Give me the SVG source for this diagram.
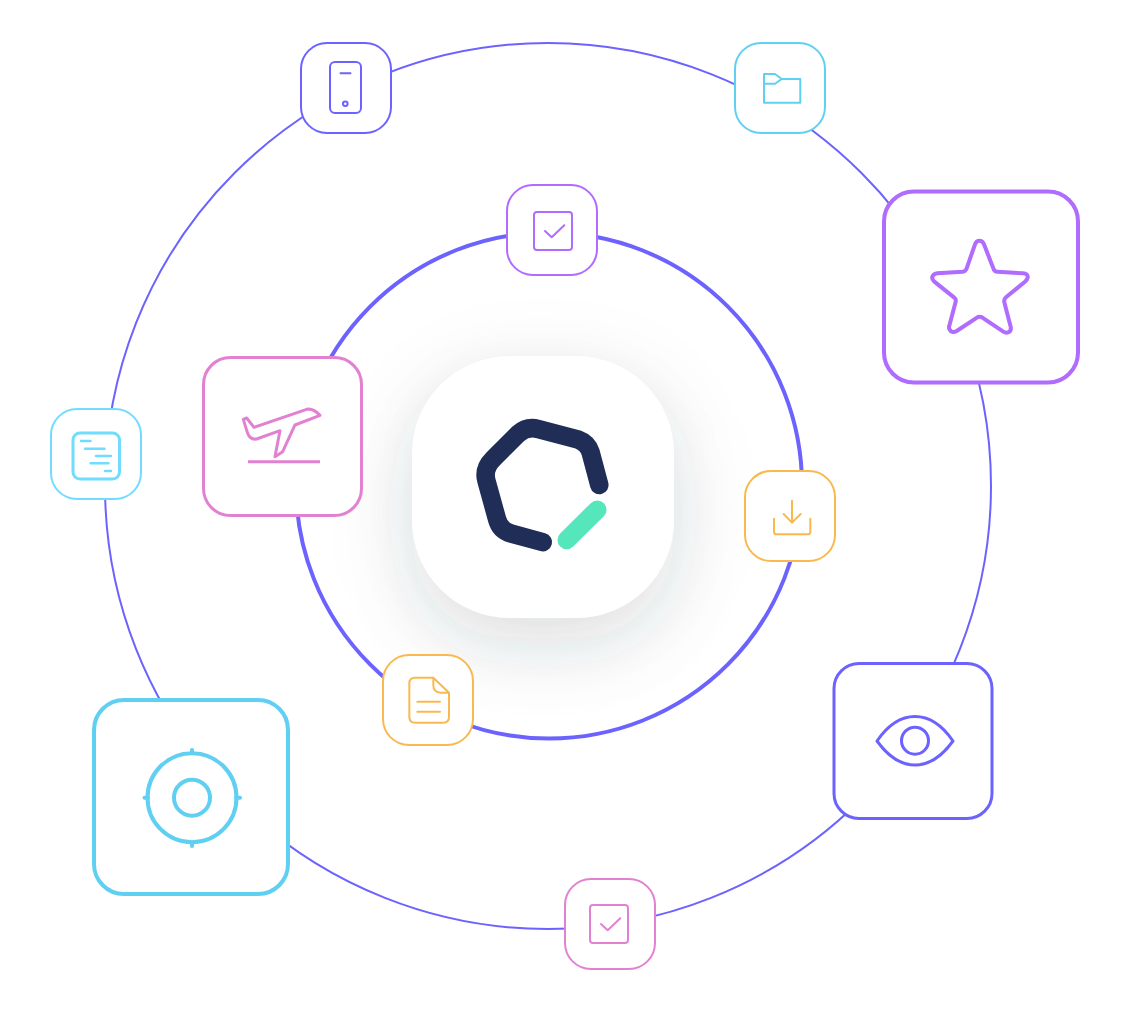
<svg xmlns="http://www.w3.org/2000/svg" width="1130" height="1012" viewBox="0 0 1130 1012">
<style>
.ln{fill:none;stroke-linecap:round;stroke-linejoin:round}
.box{fill:#fff}
.s2{stroke-width:2}.s3{stroke-width:3}.s4{stroke-width:4}
.violet{stroke:#6C63FF}.sky{stroke:#5FCFF2}.aqua{stroke:#72DCFF}.purple{stroke:#B06BFF}.pink{stroke:#E281D2}.amber{stroke:#FAB94F}
.z6{stroke-width:6}.z9{stroke-width:9}.z12{stroke-width:12}
</style>
<defs>
<filter id="soft" x="-80%" y="-80%" width="260%" height="270%">
<feDropShadow dx="0" dy="26" stdDeviation="32" flood-color="#3a4248" flood-opacity="0.13"/>
</filter>
<filter id="wide" x="-100%" y="-100%" width="300%" height="300%">
<feGaussianBlur stdDeviation="48"/>
</filter>
<g id="check">
<rect width="38" height="38" x="0" y="0" rx="3" fill="none"/>
<path d="M11 19L17.700 25.300L30.300 13.300" fill="none"/>
</g>
</defs>
<rect width="1130" height="1012" fill="#fff"/>
<g id="connectors" fill="none" stroke="#6C63FF">
<circle id="outer-ring" cx="548" cy="486" r="443" stroke-width="2"/>
<circle id="inner-ring" cx="549" cy="485.500" r="253" stroke-width="4"/>
</g>
<g id="node-logo">
<rect x="412" y="376" width="262" height="262" rx="98" fill="#3a4248" fill-opacity="0.05" filter="url(#wide)"/>
<rect x="412" y="356" width="262" height="262" rx="98" fill="#fff" filter="url(#soft)"/>
<path class="ln" stroke="#1F2D57" stroke-width="18.500" d="M599.300 485L590.500 452Q587.500 443 578 439.500L538 429Q527 426 518 434L493 459Q483 469 486.500 481L497 519Q500 530.500 511 533.500L542.700 542.200"/>
<path class="ln" stroke="#55E6BC" stroke-width="18.500" d="M566.700 540L597.300 509.700"/>
</g>
<g id="node-phone">
<rect class="box s2 violet" x="301" y="43" width="90" height="90" rx="26"/>
<rect class="ln s2 violet" x="330" y="62" width="31" height="51" rx="5"/>
<path class="ln s2 violet" d="M340.500 73.300H350.500"/>
<circle class="ln s2 violet" cx="345.300" cy="103.700" r="2.300"/>
</g>
<g id="node-folder">
<rect class="box s2 sky" x="735" y="43" width="90" height="90" rx="26"/>
<path class="ln s2 sky" d="M764 74H775L781.700 79H800.300V102.700H764ZM764 83.700H775L781.700 79"/>
</g>
<g id="node-star">
<rect class="box s4 purple" x="884" y="191.500" width="194" height="191" rx="30"/>
<path class="ln z12 purple" transform="translate(880 185) scale(.3333)" d="M298 167Q308 167 312 178L340 250Q343 260 352 260L428 265Q445 266 443 278Q442 284 435 290L378 337Q371 343 373 352L392 425Q395 440 382 443Q376 444 370 440L306 397Q299 393 292 397L230 438Q215 446 208 432Q206 428 208 422L227 350Q229 342 222 337L163 290Q152 280 160 270Q164 266 172 265L248 260Q257 259 260 250L285 178Q289 167 298 167Z"/>
</g>
<g id="node-check-top">
<rect class="box s2 purple" x="507" y="185" width="90" height="90" rx="26"/>
<use href="#check" x="534" y="212" class="ln s2 purple"/>
</g>
<g id="node-plane">
<rect class="box s3 pink" x="203.500" y="357.500" width="158" height="158" rx="27"/>
<path class="ln z9 pink" transform="translate(200 350) scale(.3333)" d="M130 208L140 204L162 232L320 178Q340 174 360 196L285 225L248 305L225 320L240 242L170 267Q150 270 143 250Z"/>
<path class="s3 pink" d="M248 461.700H320" fill="none"/>
</g>
<g id="node-list">
<rect class="box s2 aqua" x="51" y="409" width="90" height="90" rx="26"/>
<rect class="ln s3 aqua" x="73" y="433" width="46.500" height="46" rx="7"/>
<path class="ln aqua" stroke-width="2.500" d="M81 441H90.500M85 448.700H104.500M96 456H111M90.700 463.300H108.500M105 471H111"/>
</g>
<g id="node-download">
<rect class="box s2 amber" x="745" y="471" width="90" height="90" rx="26"/>
<path class="ln z6 amber" transform="translate(735 460) scale(.3333)" d="M117 176V215Q117 223 125 223H218Q226 223 226 215V176M171 122V188M146 162L171 188L197 162"/>
</g>
<g id="node-doc">
<rect class="box s2 amber" x="383" y="655" width="90" height="90" rx="26"/>
<path class="ln z6 amber" transform="translate(375 650) scale(.3333)" d="M120 83H175L222 128V200Q222 218 204 218H120Q103 218 103 200V100Q103 83 120 83ZM175 83V105Q175 128 198 128H222M127 155H195M127 185H195"/>
</g>
<g id="node-eye">
<rect class="box s3 violet" x="834" y="663.500" width="158" height="155" rx="25"/>
<path class="ln s3 violet" d="M877 741C890 722 903 716.500 915 716.500C927 716.500 940 722 953 741C940 759 927 765 915 765C903 765 890 759 877 741Z"/>
<circle class="ln s3 violet" cx="915" cy="740.700" r="13.500"/>
</g>
<g id="node-target">
<rect class="box s4 sky" x="94" y="700" width="194" height="194" rx="30"/>
<circle class="ln s4 sky" cx="192" cy="797.700" r="44.500"/>
<circle class="ln s4 sky" cx="192" cy="797.700" r="18"/>
<path class="ln s4 sky" d="M192 750V753M192 842.500V846M144.500 797.700H148M236 797.700H240"/>
</g>
<g id="node-check-bottom">
<rect class="box s2 pink" x="565" y="879" width="90" height="90" rx="26"/>
<use href="#check" x="590" y="905" class="ln s2 pink"/>
</g>
</svg>
